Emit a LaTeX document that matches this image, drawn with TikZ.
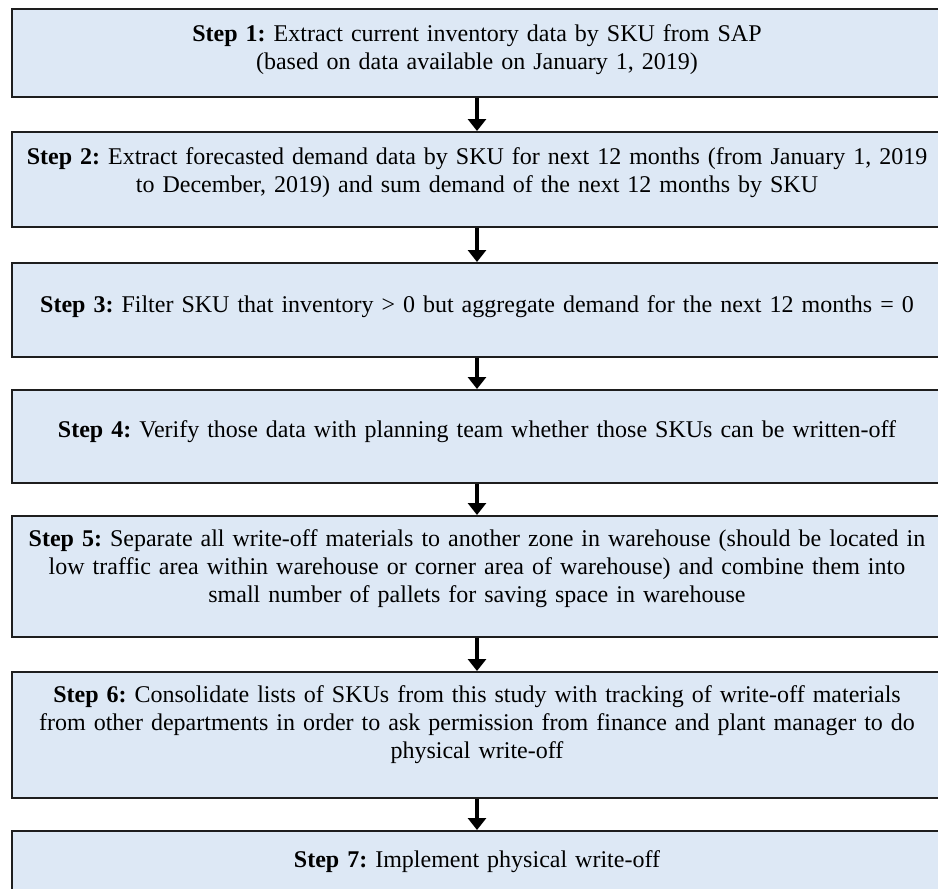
\documentclass[tikz,border=0pt]{standalone}
\usepackage{fontspec}
\setmainfont{Liberation Serif}
\usetikzlibrary{arrows.meta}
\definecolor{stepfill}{RGB}{221,232,245}
\definecolor{stepline}{RGB}{30,30,30}
\begin{document}
\frenchspacing
\begin{tikzpicture}[x=1pt,y=-1pt,
  stepbox/.style={draw=stepline, line width=2pt, fill=stepfill,
    minimum width=930pt, inner sep=0pt},
  steptext/.style={anchor=base, text width=930pt, align=center, inner sep=0pt,
    font=\fontsize{24}{28}\selectfont},
  flow/.style={line width=4pt, draw=black,
    -{Triangle[width=18pt,length=12pt]}}]
\useasboundingbox (0,0) rectangle (938,889);

% the seven step boxes
\node[stepbox, minimum height=88pt]  (s1) at (477,53) {};
\node[stepbox, minimum height=95pt]  (s2) at (477,179.5) {};
\node[stepbox, minimum height=94pt]  (s3) at (477,310) {};
\node[stepbox, minimum height=93pt]  (s4) at (477,436.5) {};
\node[stepbox, minimum height=121pt] (s5) at (477,576.5) {};
\node[stepbox, minimum height=126pt] (s6) at (477,735) {};
\node[stepbox, minimum height=94pt]  (s7) at (477,878) {};

% their texts, set from the top edge of each box
\node[steptext] (t1) at ([yshift=-33pt]s1.north)
  {\textbf{Step 1:} Extract current inventory data by SKU from SAP\\
   (based on data available on January 1, 2019)};
\node[steptext] (t2) at ([yshift=-33pt]s2.north)
  {\textbf{Step 2:} Extract forecasted demand data by SKU for next 12 months (from January 1, 2019\\
   to December, 2019) and sum demand of the next 12 months by SKU};
\node[steptext] (t3) at ([yshift=-50pt]s3.north)
  {\textbf{Step 3:} Filter SKU that inventory > 0 but aggregate demand for the next 12 months = 0};
\node[steptext] (t4) at ([yshift=-48pt]s4.north)
  {\textbf{Step 4:} Verify those data with planning team whether those SKUs can be written-off};
\node[steptext] (t5) at ([yshift=-31pt]s5.north)
  {\textbf{Step 5:} Separate all write-off materials to another zone in warehouse (should be located in\\
   low traffic area within warehouse or corner area of warehouse) and combine them into\\
   small number of pallets for saving space in warehouse};
\node[steptext] (t6) at ([yshift=-31pt]s6.north)
  {\textbf{Step 6:} Consolidate lists of SKUs from this study with tracking of write-off materials\\
   from other departments in order to ask permission from finance and plant manager to do\\
   physical write-off};
\node[steptext] (t7) at ([yshift=-37pt]s7.north)
  {\textbf{Step 7:} Implement physical write-off};

% arrows between consecutive steps
\draw[flow] (s1.south) -- (s2.north);
\draw[flow] (s2.south) -- (s3.north);
\draw[flow] (s3.south) -- (s4.north);
\draw[flow] (s4.south) -- (s5.north);
\draw[flow] (s5.south) -- (s6.north);
\draw[flow] (s6.south) -- (s7.north);
\end{tikzpicture}
\end{document}
